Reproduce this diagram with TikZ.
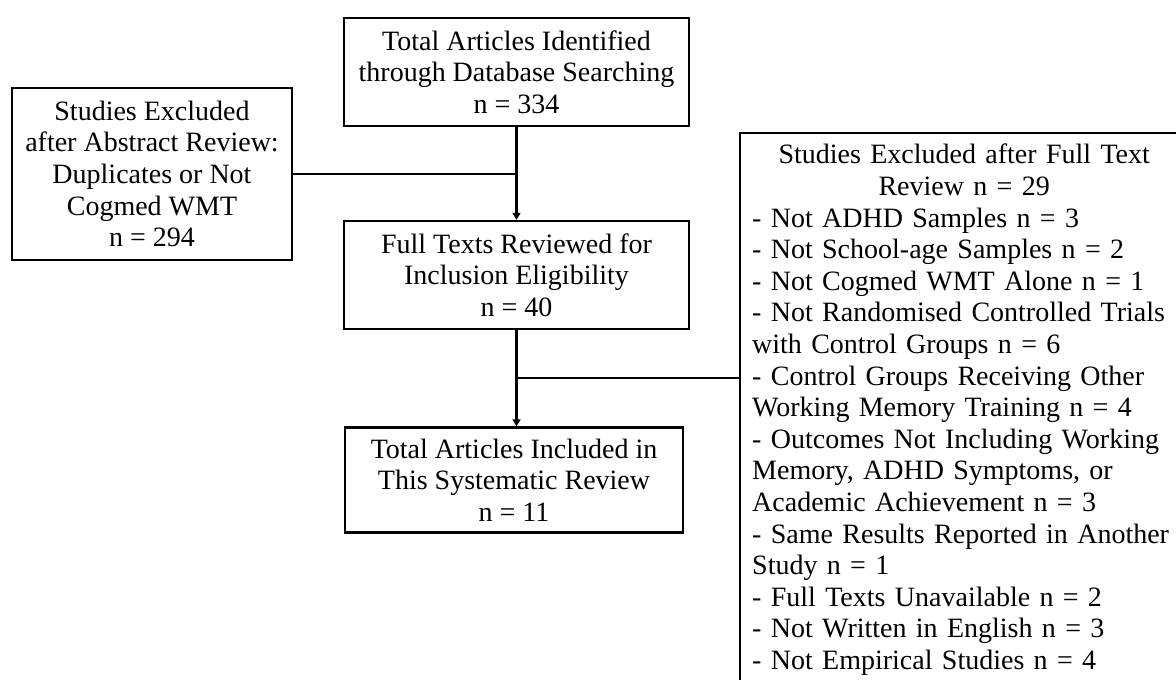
\documentclass[tikz,border=0pt]{standalone}
\usepackage{fontspec}
\setmainfont{Liberation Serif}
\usetikzlibrary{arrows.meta}
\tikzset{
  box/.style={draw=black, line width=2.4pt, fill=white, inner sep=0pt,
    align=center, font=\fontsize{28}{31.6}\selectfont},
  conn/.style={draw=black, line width=2.4pt},
  arr/.style={conn, -{Triangle[width=8pt,length=7pt]}},
}
\begin{document}
\begin{tikzpicture}[x=1pt,y=-1pt]
\clip (0,0) rectangle (1176,680);
\fill[white] (0,0) rectangle (1176,680);
\node[box, minimum width=345pt, minimum height=108pt] (top) at (516.5,72)
  {Total Articles Identified\\through Database Searching\\n = 334};
\node[box, minimum width=280pt, minimum height=172pt] (left) at (152,174)
  {Studies Excluded\\after Abstract Review:\\Duplicates or Not\\Cogmed WMT\\n = 294};
\node[box, minimum width=345pt, minimum height=108pt] (mid) at (516.5,275)
  {Full Texts Reviewed for\\Inclusion Eligibility\\n = 40};
\node[box, minimum width=338pt, minimum height=105pt] (bot) at (514,480)
  {Total Articles Included in\\This Systematic Review\\n = 11};
\node[box, anchor=north west, align=left, text width=424pt, inner xsep=12pt, inner ysep=11pt] (right) at (739,132)
  {\makebox[\linewidth][c]{Studies Excluded after Full Text}\\
   \makebox[\linewidth][c]{Review n = 29}\\
   - Not ADHD Samples n = 3\\
   - Not School-age Samples n = 2\\
   - Not Cogmed WMT Alone n = 1\\
   - Not Randomised Controlled Trials\\
   with Control Groups n = 6\\
   - Control Groups Receiving Other\\
   Working Memory Training n = 4\\
   - Outcomes Not Including Working\\
   Memory, ADHD Symptoms, or\\
   Academic Achievement n = 3\\
   - Same Results Reported in Another\\
   Study n = 1\\
   - Full Texts Unavailable n = 2\\
   - Not Written in English n = 3\\
   - Not Empirical Studies n = 4};
\draw[arr] (top.south) -- (mid.north);
\coordinate (j1) at (left.east -| top.south);
\draw[conn] (left.east) -- (j1);
\draw[arr] (mid.south) -- (mid.south |- bot.north);
\coordinate (j2) at (516.5,378);
\draw[conn] (j2) -- (j2 -| right.west);
\end{tikzpicture}
\end{document}
